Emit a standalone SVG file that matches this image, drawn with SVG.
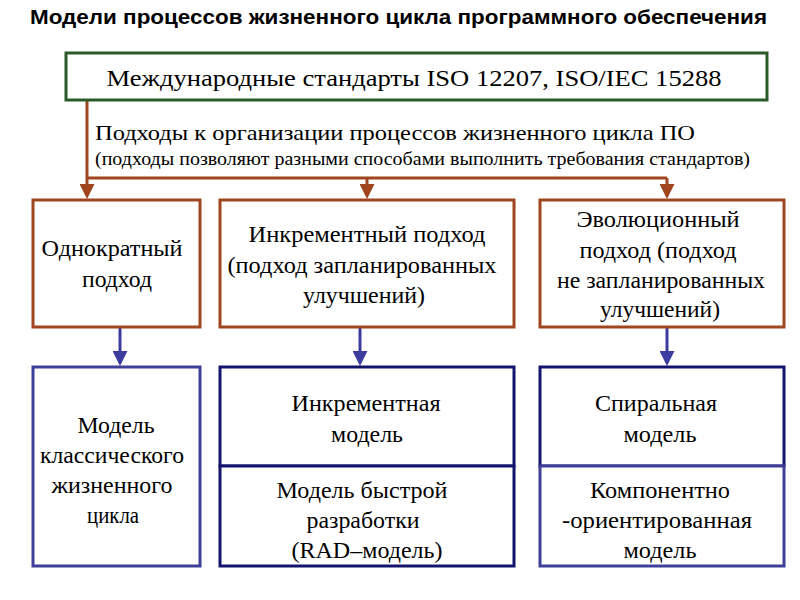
<svg xmlns="http://www.w3.org/2000/svg" width="800" height="600" viewBox="0 0 800 600">
<style>
.t{font-family:"Liberation Serif","DejaVu Serif","Times New Roman",serif;font-size:24px;fill:#000;text-anchor:middle}
.title{font-family:"Liberation Sans Narrow","Liberation Sans",Arial,sans-serif;font-size:20px;font-weight:bold;fill:#000}
.br{fill:#fff;stroke:#A0461E;stroke-width:3}
.bl{fill:#fff;stroke:#3F3F9A;stroke-width:3}
.bn{fill:#fff;stroke:#14146E;stroke-width:3}
.cb{stroke:#A0461E;stroke-width:3;fill:none}
.cu{stroke:#3C3CA0;stroke-width:3;fill:none}
</style>
<defs>
<marker id="ab" markerWidth="5" markerHeight="5" refX="4" refY="2.5" orient="auto" markerUnits="strokeWidth"><path d="M0,0 L5,2.5 L0,5 z" fill="#A0461E"/></marker>
<marker id="au" markerWidth="5" markerHeight="5" refX="4" refY="2.5" orient="auto" markerUnits="strokeWidth"><path d="M0,0 L5,2.5 L0,5 z" fill="#3C3CA0"/></marker>
</defs>
<rect width="800" height="600" fill="#fff"/>
<text class="title" x="30" y="24" textLength="737" lengthAdjust="spacingAndGlyphs">Модели процессов жизненного цикла программного обеспечения</text>

<g id="connectors">
<path class="cb" d="M87,100 V196" marker-end="url(#ab)"/>
<path class="cb" d="M87,178 H667"/>
<path class="cb" d="M367,178 V196" marker-end="url(#ab)"/>
<path class="cb" d="M667,178 V196" marker-end="url(#ab)"/>
<path class="cu" d="M120,328 V363" marker-end="url(#au)"/>
<path class="cu" d="M360,328 V363" marker-end="url(#au)"/>
<path class="cu" d="M667,328 V363" marker-end="url(#au)"/>
</g>

<g id="standards">
<rect x="66" y="53" width="701" height="47" fill="#fff" stroke="#2A5A2A" stroke-width="3"/>
<text class="t" x="414" y="86" textLength="615" lengthAdjust="spacingAndGlyphs">Международные стандарты ISO 12207, ISO/IEC 15288</text>
</g>

<g id="approaches-label">
<text class="t" x="95" y="140" style="text-anchor:start;font-size:22px" textLength="600" lengthAdjust="spacingAndGlyphs">Подходы к организации процессов жизненного цикла ПО</text>
<text class="t" x="95" y="165" style="text-anchor:start;font-size:18px" textLength="655" lengthAdjust="spacingAndGlyphs">(подходы позволяют разными способами выполнить требования стандартов)</text>
</g>

<g id="once">
<rect class="br" x="33" y="200" width="167" height="127"/>
<text class="t" x="112" y="256" textLength="141" lengthAdjust="spacingAndGlyphs">Однократный</text>
<text class="t" x="117" y="287" textLength="70" lengthAdjust="spacingAndGlyphs">подход</text>
</g>

<g id="incremental">
<rect class="br" x="220" y="200" width="294" height="127"/>
<text class="t" x="367" y="242" textLength="237" lengthAdjust="spacingAndGlyphs">Инкрементный подход</text>
<text class="t" x="362" y="273" textLength="269" lengthAdjust="spacingAndGlyphs">(подход запланированных</text>
<text class="t" x="364" y="303" textLength="122" lengthAdjust="spacingAndGlyphs">улучшений)</text>
</g>

<g id="evolutionary">
<rect class="br" x="540" y="200" width="244" height="127"/>
<text class="t" x="658" y="227" textLength="163" lengthAdjust="spacingAndGlyphs">Эволюционный</text>
<text class="t" x="658" y="258" textLength="157" lengthAdjust="spacingAndGlyphs">подход (подход</text>
<text class="t" x="661" y="288" textLength="208" lengthAdjust="spacingAndGlyphs">не запланированных</text>
<text class="t" x="660" y="317" textLength="120" lengthAdjust="spacingAndGlyphs">улучшений)</text>
</g>

<g id="classic">
<rect class="bl" x="33" y="367" width="167" height="199"/>
<text class="t" x="116" y="433" textLength="77" lengthAdjust="spacingAndGlyphs">Модель</text>
<text class="t" x="112" y="463" textLength="144" lengthAdjust="spacingAndGlyphs">классического</text>
<text class="t" x="112" y="493" textLength="121" lengthAdjust="spacingAndGlyphs">жизненного</text>
<text class="t" x="113" y="523" textLength="52" lengthAdjust="spacingAndGlyphs">цикла</text>
</g>

<g id="incremental-model">
<rect class="bn" x="220" y="367" width="294" height="99"/>
<text class="t" x="366" y="411" textLength="149" lengthAdjust="spacingAndGlyphs">Инкрементная</text>
<text class="t" x="367" y="442" textLength="72" lengthAdjust="spacingAndGlyphs">модель</text>
</g>

<g id="rad-model">
<rect class="bn" x="220" y="466" width="294" height="100"/>
<text class="t" x="362" y="498" textLength="171" lengthAdjust="spacingAndGlyphs">Модель быстрой</text>
<text class="t" x="363" y="528" textLength="113" lengthAdjust="spacingAndGlyphs">разработки</text>
<text class="t" x="367" y="558" textLength="151" lengthAdjust="spacingAndGlyphs">(RAD–модель)</text>
</g>

<g id="spiral-model">
<rect class="bn" x="540" y="367" width="244" height="99"/>
<text class="t" x="656" y="411" textLength="122" lengthAdjust="spacingAndGlyphs">Спиральная</text>
<text class="t" x="660" y="442" textLength="73" lengthAdjust="spacingAndGlyphs">модель</text>
</g>

<g id="component-model">
<rect class="bl" x="540" y="466" width="244" height="100"/>
<text class="t" x="660" y="498" textLength="140" lengthAdjust="spacingAndGlyphs">Компонентно</text>
<text class="t" x="657" y="528" textLength="190" lengthAdjust="spacingAndGlyphs">-ориентированная</text>
<text class="t" x="660" y="558" textLength="73" lengthAdjust="spacingAndGlyphs">модель</text>
</g>
</svg>
